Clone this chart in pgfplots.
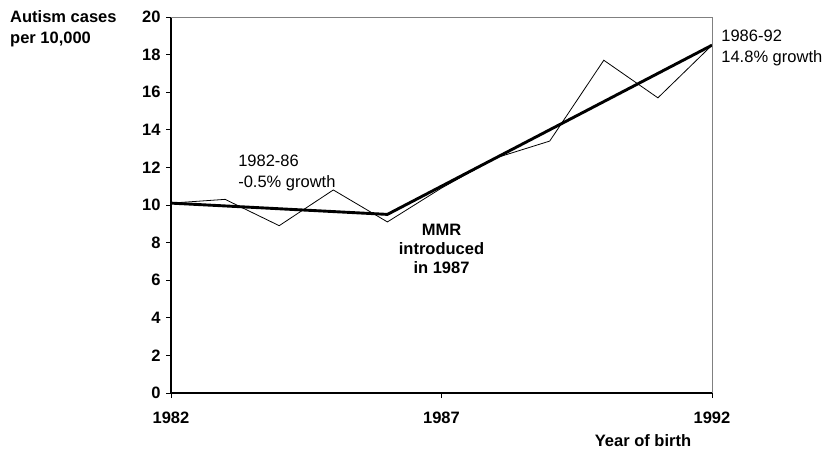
\documentclass[border=0pt]{standalone}
\usepackage{fontspec}
\setmainfont{Liberation Sans}
\usepackage{pgfplots}
\pgfplotsset{compat=1.18}
\begin{document}
\begin{tikzpicture}
\begin{axis}[
    scale only axis,
    width=541pt, height=376pt,
    xmin=1982, xmax=1992,
    ymin=0, ymax=20,
    xtick={1982,1987,1992},
    ytick={0,2,...,20},
    xticklabel style={/pgf/number format/1000 sep={}, yshift=-10pt},
    yticklabel style={xshift=-2pt},
    /pgf/number format/assume math mode=true,
    ticklabel style={font=\bfseries\fontsize{16.5}{19}\selectfont},
    tick align=outside,
    major tick length=5pt,
    tick style={black, line width=0.8pt},
    axis x line*=bottom,
    axis y line*=left,
    x axis line style={black, line width=1.2pt, -},
    y axis line style={black, line width=1.6pt, -},
    clip=false,
]
% thin: yearly rates
\addplot[black, line width=0.8pt] coordinates {
    (1982,10.1) (1983,10.3) (1984,8.9) (1985,10.8) (1986,9.1)
    (1987,10.9) (1988,12.5) (1989,13.4) (1990,17.7) (1991,15.7) (1992,18.5)
};
% thick: trend
\addplot[black, line width=2.9pt] coordinates {
    (1982,10.1) (1986,9.5) (1992,18.5)
};
\draw[gray, line width=0.8pt] (rel axis cs:0,1) -- (rel axis cs:1,1) -- (rel axis cs:1,0);

\node[anchor=west, align=left, inner sep=0pt, font=\fontsize{16.5}{21}\selectfont]
    at (axis cs:1983.24,11.73) {1982-86\\-0.5\% growth};
\node[anchor=center, align=center, inner sep=0pt, font=\bfseries\fontsize{16.5}{19}\selectfont]
    at (axis cs:1987,7.66) {MMR\\introduced\\in 1987};
\node[anchor=west, align=left, inner sep=0pt, font=\fontsize{16.5}{21}\selectfont]
    at (axis cs:1992.17,18.38) {1986-92\\14.8\% growth};
\node[anchor=north west, align=left, inner sep=0pt, font=\bfseries\fontsize{16.5}{21}\selectfont]
    at (rel axis cs:-0.2976,1.0186) {Autism cases\\per 10,000};
\node[anchor=center, inner sep=0pt, font=\bfseries\fontsize{16.5}{19}\selectfont]
    at (rel axis cs:0.8725,-0.1277) {Year of birth};
\end{axis}
\pgfresetboundingbox
\path (current axis.south west) ++(-171pt,-57pt) rectangle ++(825pt,450pt);
\end{tikzpicture}
\end{document}
